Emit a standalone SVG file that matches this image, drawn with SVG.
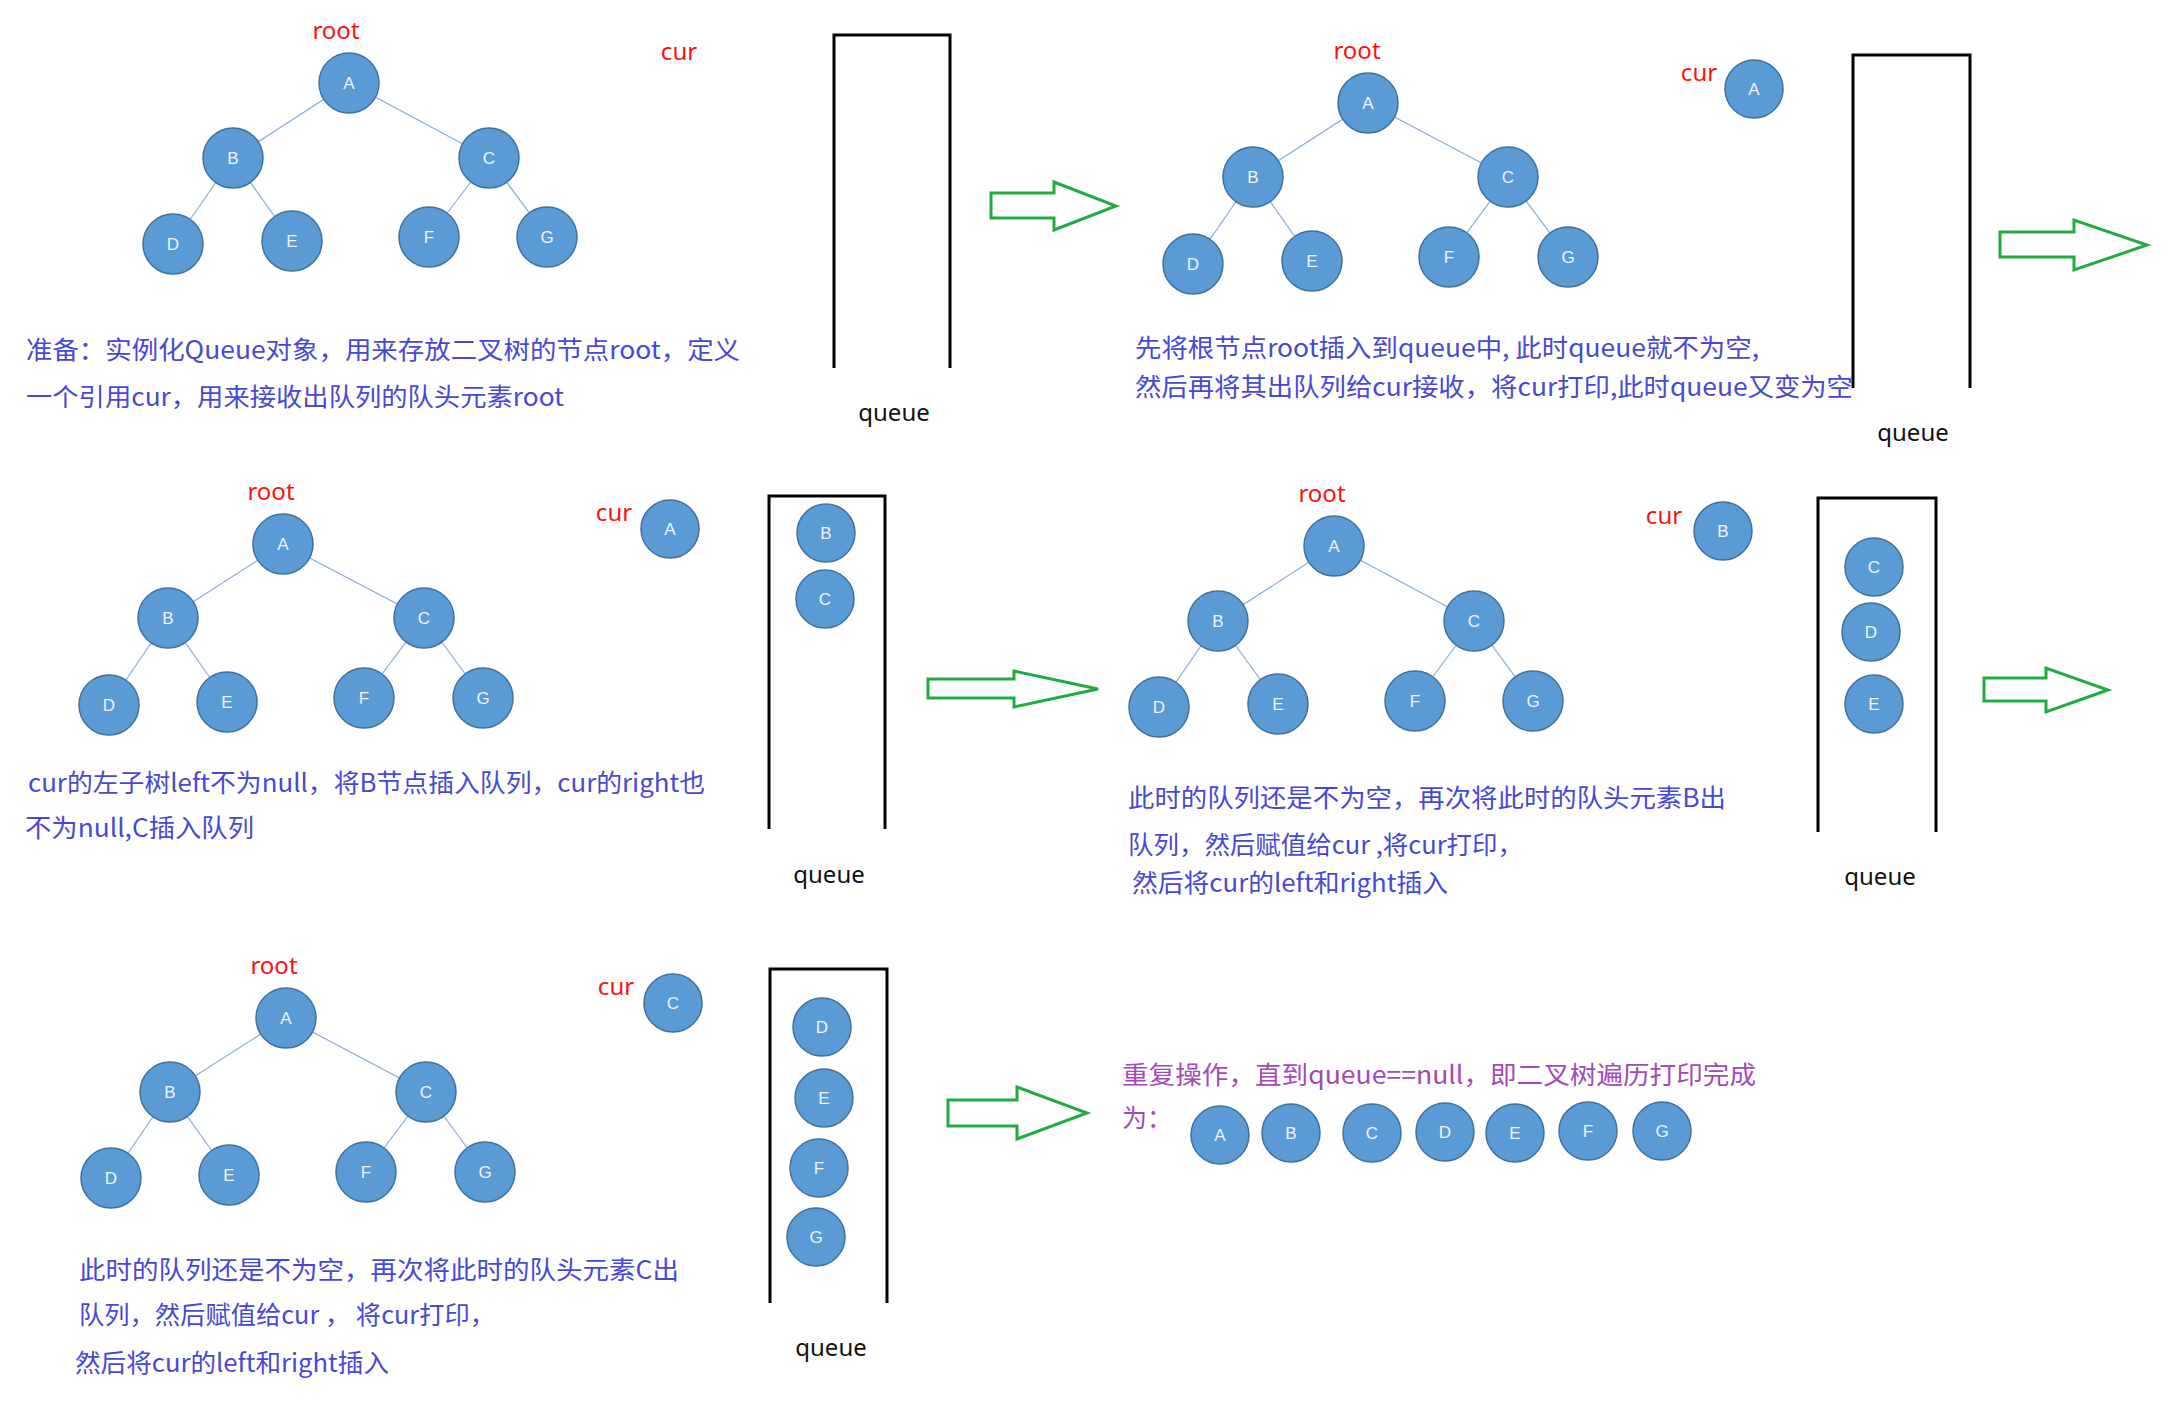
<svg xmlns="http://www.w3.org/2000/svg" width="2179" height="1409" viewBox="0 0 2179 1409">
<style>
.bg{fill:#ffffff}
.edge{stroke:#86ABD9;stroke-width:1.2;fill:none}
.node circle{fill:#5B9BD5;stroke:#41719C;stroke-width:1.5}
.node text{font-family:"Liberation Sans","Noto Sans",sans-serif;font-size:17px;fill:#EEF4FA;text-anchor:middle}
.red{font-family:"Noto Sans","Liberation Sans",sans-serif;font-size:24px;fill:#FF1010;text-anchor:middle}
.qlabel{font-family:"Noto Sans","Liberation Sans",sans-serif;font-size:24px;fill:#111111;text-anchor:middle}
.queue{fill:none;stroke:#000000;stroke-width:3}
.arrow{fill:none;stroke:#22AA44;stroke-width:3;stroke-linejoin:miter}
.desc{font-family:"Noto Sans CJK SC","Noto Sans",sans-serif;font-size:25px;fill:#4848D6}
.final{font-family:"Noto Sans CJK SC","Noto Sans",sans-serif;font-size:25px;fill:#A24AB8}
</style>
<rect class="bg" x="0" y="0" width="2179" height="1409"/>

<g id="connectors">
  <!-- panel 1 -->
  <line class="edge" x1="349" y1="83" x2="233" y2="158"/>
  <line class="edge" x1="349" y1="83" x2="489" y2="158"/>
  <line class="edge" x1="233" y1="158" x2="173" y2="244"/>
  <line class="edge" x1="233" y1="158" x2="292" y2="241"/>
  <line class="edge" x1="489" y1="158" x2="429" y2="237"/>
  <line class="edge" x1="489" y1="158" x2="547" y2="237"/>
  <!-- panel 2 -->
  <line class="edge" x1="1368" y1="103" x2="1253" y2="177"/>
  <line class="edge" x1="1368" y1="103" x2="1508" y2="177"/>
  <line class="edge" x1="1253" y1="177" x2="1193" y2="264"/>
  <line class="edge" x1="1253" y1="177" x2="1312" y2="261"/>
  <line class="edge" x1="1508" y1="177" x2="1449" y2="257"/>
  <line class="edge" x1="1508" y1="177" x2="1568" y2="257"/>
  <!-- panel 3 -->
  <line class="edge" x1="283" y1="544" x2="168" y2="618"/>
  <line class="edge" x1="283" y1="544" x2="424" y2="618"/>
  <line class="edge" x1="168" y1="618" x2="109" y2="705"/>
  <line class="edge" x1="168" y1="618" x2="227" y2="702"/>
  <line class="edge" x1="424" y1="618" x2="364" y2="698"/>
  <line class="edge" x1="424" y1="618" x2="483" y2="698"/>
  <!-- panel 4 -->
  <line class="edge" x1="1334" y1="546" x2="1218" y2="621"/>
  <line class="edge" x1="1334" y1="546" x2="1474" y2="621"/>
  <line class="edge" x1="1218" y1="621" x2="1159" y2="707"/>
  <line class="edge" x1="1218" y1="621" x2="1278" y2="704"/>
  <line class="edge" x1="1474" y1="621" x2="1415" y2="701"/>
  <line class="edge" x1="1474" y1="621" x2="1533" y2="701"/>
  <!-- panel 5 -->
  <line class="edge" x1="286" y1="1018" x2="170" y2="1092"/>
  <line class="edge" x1="286" y1="1018" x2="426" y2="1092"/>
  <line class="edge" x1="170" y1="1092" x2="111" y2="1178"/>
  <line class="edge" x1="170" y1="1092" x2="229" y2="1175"/>
  <line class="edge" x1="426" y1="1092" x2="366" y2="1172"/>
  <line class="edge" x1="426" y1="1092" x2="485" y2="1172"/>
  <!-- step arrows -->
  <path class="arrow" d="M991,193 H1054 V182 L1116,206 L1054,230 V218 H991 Z"/>
  <path class="arrow" d="M2000,232 H2074 V220 L2147,245 L2074,270 V257 H2000 Z"/>
  <path class="arrow" d="M928,679 H1014 V671 L1098,689 L1014,707 V698 H928 Z"/>
  <path class="arrow" d="M1984,678 H2046 V668 L2108,690 L2046,712 V701 H1984 Z"/>
  <path class="arrow" d="M948,1100 H1017 V1087 L1087,1113 L1017,1139 V1126 H948 Z"/>
</g>

<!-- Panel 1 -->
<g id="p1">
  <text class="red" x="336" y="39">root</text>
  <text class="red" x="679" y="60">cur</text>
  <path class="queue" d="M834,368 V35 H950 V368"/>
  <text class="qlabel" x="894" y="421">queue</text>
  <g id="p1-A" class="node"><circle cx="349" cy="83" r="30"/><text x="349" y="89">A</text></g>
  <g id="p1-B" class="node"><circle cx="233" cy="158" r="30"/><text x="233" y="164">B</text></g>
  <g id="p1-C" class="node"><circle cx="489" cy="158" r="30"/><text x="489" y="164">C</text></g>
  <g id="p1-D" class="node"><circle cx="173" cy="244" r="30"/><text x="173" y="250">D</text></g>
  <g id="p1-E" class="node"><circle cx="292" cy="241" r="30"/><text x="292" y="247">E</text></g>
  <g id="p1-F" class="node"><circle cx="429" cy="237" r="30"/><text x="429" y="243">F</text></g>
  <g id="p1-G" class="node"><circle cx="547" cy="237" r="30"/><text x="547" y="243">G</text></g>
  <text class="desc" x="26" y="359" textLength="714" lengthAdjust="spacingAndGlyphs">准备：实例化Queue对象，用来存放二叉树的节点root，定义</text>
  <text class="desc" x="26" y="406" textLength="538" lengthAdjust="spacingAndGlyphs">一个引用cur，用来接收出队列的队头元素root</text>
</g>

<!-- Panel 2 -->
<g id="p2">
  <text class="red" x="1357" y="59">root</text>
  <text class="red" x="1699" y="81">cur</text>
  <g id="p2-curA" class="node"><circle cx="1754" cy="89" r="29"/><text x="1754" y="95">A</text></g>
  <path class="queue" d="M1853,388 V55 H1970 V388"/>
  <text class="qlabel" x="1913" y="441">queue</text>
  <g id="p2-A" class="node"><circle cx="1368" cy="103" r="30"/><text x="1368" y="109">A</text></g>
  <g id="p2-B" class="node"><circle cx="1253" cy="177" r="30"/><text x="1253" y="183">B</text></g>
  <g id="p2-C" class="node"><circle cx="1508" cy="177" r="30"/><text x="1508" y="183">C</text></g>
  <g id="p2-D" class="node"><circle cx="1193" cy="264" r="30"/><text x="1193" y="270">D</text></g>
  <g id="p2-E" class="node"><circle cx="1312" cy="261" r="30"/><text x="1312" y="267">E</text></g>
  <g id="p2-F" class="node"><circle cx="1449" cy="257" r="30"/><text x="1449" y="263">F</text></g>
  <g id="p2-G" class="node"><circle cx="1568" cy="257" r="30"/><text x="1568" y="263">G</text></g>
  <text class="desc" x="1135" y="357" textLength="624" lengthAdjust="spacingAndGlyphs">先将根节点root插入到queue中, 此时queue就不为空,</text>
  <text class="desc" x="1135" y="396" textLength="718" lengthAdjust="spacingAndGlyphs">然后再将其出队列给cur接收，将cur打印,此时queue又变为空</text>
</g>

<!-- Panel 3 -->
<g id="p3">
  <text class="red" x="271" y="500">root</text>
  <text class="red" x="614" y="521">cur</text>
  <g id="p3-curA" class="node"><circle cx="670" cy="529" r="29"/><text x="670" y="535">A</text></g>
  <path class="queue" d="M769,829 V496 H885 V829"/>
  <text class="qlabel" x="829" y="883">queue</text>
  <g id="p3-qB" class="node"><circle cx="826" cy="533" r="29"/><text x="826" y="539">B</text></g>
  <g id="p3-qC" class="node"><circle cx="825" cy="599" r="29"/><text x="825" y="605">C</text></g>
  <g id="p3-A" class="node"><circle cx="283" cy="544" r="30"/><text x="283" y="550">A</text></g>
  <g id="p3-B" class="node"><circle cx="168" cy="618" r="30"/><text x="168" y="624">B</text></g>
  <g id="p3-C" class="node"><circle cx="424" cy="618" r="30"/><text x="424" y="624">C</text></g>
  <g id="p3-D" class="node"><circle cx="109" cy="705" r="30"/><text x="109" y="711">D</text></g>
  <g id="p3-E" class="node"><circle cx="227" cy="702" r="30"/><text x="227" y="708">E</text></g>
  <g id="p3-F" class="node"><circle cx="364" cy="698" r="30"/><text x="364" y="704">F</text></g>
  <g id="p3-G" class="node"><circle cx="483" cy="698" r="30"/><text x="483" y="704">G</text></g>
  <text class="desc" x="28" y="792" textLength="677" lengthAdjust="spacingAndGlyphs">cur的左子树left不为null，将B节点插入队列，cur的right也</text>
  <text class="desc" x="25" y="837" textLength="229" lengthAdjust="spacingAndGlyphs">不为null,C插入队列</text>
</g>

<!-- Panel 4 -->
<g id="p4">
  <text class="red" x="1322" y="502">root</text>
  <text class="red" x="1664" y="524">cur</text>
  <g id="p4-curB" class="node"><circle cx="1723" cy="531" r="29"/><text x="1723" y="537">B</text></g>
  <path class="queue" d="M1818,832 V498 H1936 V832"/>
  <text class="qlabel" x="1880" y="885">queue</text>
  <g id="p4-qC" class="node"><circle cx="1874" cy="567" r="29"/><text x="1874" y="573">C</text></g>
  <g id="p4-qD" class="node"><circle cx="1871" cy="632" r="29"/><text x="1871" y="638">D</text></g>
  <g id="p4-qE" class="node"><circle cx="1874" cy="704" r="29"/><text x="1874" y="710">E</text></g>
  <g id="p4-A" class="node"><circle cx="1334" cy="546" r="30"/><text x="1334" y="552">A</text></g>
  <g id="p4-B" class="node"><circle cx="1218" cy="621" r="30"/><text x="1218" y="627">B</text></g>
  <g id="p4-C" class="node"><circle cx="1474" cy="621" r="30"/><text x="1474" y="627">C</text></g>
  <g id="p4-D" class="node"><circle cx="1159" cy="707" r="30"/><text x="1159" y="713">D</text></g>
  <g id="p4-E" class="node"><circle cx="1278" cy="704" r="30"/><text x="1278" y="710">E</text></g>
  <g id="p4-F" class="node"><circle cx="1415" cy="701" r="30"/><text x="1415" y="707">F</text></g>
  <g id="p4-G" class="node"><circle cx="1533" cy="701" r="30"/><text x="1533" y="707">G</text></g>
  <text class="desc" x="1128" y="807" textLength="598" lengthAdjust="spacingAndGlyphs">此时的队列还是不为空，再次将此时的队头元素B出</text>
  <text class="desc" x="1128" y="854" textLength="395" lengthAdjust="spacingAndGlyphs">队列，然后赋值给cur ,将cur打印，</text>
  <text class="desc" x="1132" y="892" textLength="316" lengthAdjust="spacingAndGlyphs">然后将cur的left和right插入</text>
</g>

<!-- Panel 5 -->
<g id="p5">
  <text class="red" x="274" y="974">root</text>
  <text class="red" x="616" y="995">cur</text>
  <g id="p5-curC" class="node"><circle cx="673" cy="1003" r="29"/><text x="673" y="1009">C</text></g>
  <path class="queue" d="M770,1303 V969 H887 V1303"/>
  <text class="qlabel" x="831" y="1356">queue</text>
  <g id="p5-qD" class="node"><circle cx="822" cy="1027" r="29"/><text x="822" y="1033">D</text></g>
  <g id="p5-qE" class="node"><circle cx="824" cy="1098" r="29"/><text x="824" y="1104">E</text></g>
  <g id="p5-qF" class="node"><circle cx="819" cy="1168" r="29"/><text x="819" y="1174">F</text></g>
  <g id="p5-qG" class="node"><circle cx="816" cy="1237" r="29"/><text x="816" y="1243">G</text></g>
  <g id="p5-A" class="node"><circle cx="286" cy="1018" r="30"/><text x="286" y="1024">A</text></g>
  <g id="p5-B" class="node"><circle cx="170" cy="1092" r="30"/><text x="170" y="1098">B</text></g>
  <g id="p5-C" class="node"><circle cx="426" cy="1092" r="30"/><text x="426" y="1098">C</text></g>
  <g id="p5-D" class="node"><circle cx="111" cy="1178" r="30"/><text x="111" y="1184">D</text></g>
  <g id="p5-E" class="node"><circle cx="229" cy="1175" r="30"/><text x="229" y="1181">E</text></g>
  <g id="p5-F" class="node"><circle cx="366" cy="1172" r="30"/><text x="366" y="1178">F</text></g>
  <g id="p5-G" class="node"><circle cx="485" cy="1172" r="30"/><text x="485" y="1178">G</text></g>
  <text class="desc" x="79" y="1279" textLength="600" lengthAdjust="spacingAndGlyphs">此时的队列还是不为空，再次将此时的队头元素C出</text>
  <text class="desc" x="79" y="1324" textLength="416" lengthAdjust="spacingAndGlyphs">队列，然后赋值给cur ， 将cur打印，</text>
  <text class="desc" x="75" y="1372" textLength="314" lengthAdjust="spacingAndGlyphs">然后将cur的left和right插入</text>
</g>

<!-- Panel 6 -->
<g id="p6">
  <text class="final" x="1122" y="1084" textLength="634" lengthAdjust="spacingAndGlyphs">重复操作，直到queue==null，即二叉树遍历打印完成</text>
  <text class="final" x="1122" y="1127">为：</text>
  <g id="p6-A" class="node"><circle cx="1220" cy="1135" r="29"/><text x="1220" y="1141">A</text></g>
  <g id="p6-B" class="node"><circle cx="1291" cy="1133" r="29"/><text x="1291" y="1139">B</text></g>
  <g id="p6-C" class="node"><circle cx="1372" cy="1133" r="29"/><text x="1372" y="1139">C</text></g>
  <g id="p6-D" class="node"><circle cx="1445" cy="1132" r="29"/><text x="1445" y="1138">D</text></g>
  <g id="p6-E" class="node"><circle cx="1515" cy="1133" r="29"/><text x="1515" y="1139">E</text></g>
  <g id="p6-F" class="node"><circle cx="1588" cy="1131" r="29"/><text x="1588" y="1137">F</text></g>
  <g id="p6-G" class="node"><circle cx="1662" cy="1131" r="29"/><text x="1662" y="1137">G</text></g>
</g>
</svg>
